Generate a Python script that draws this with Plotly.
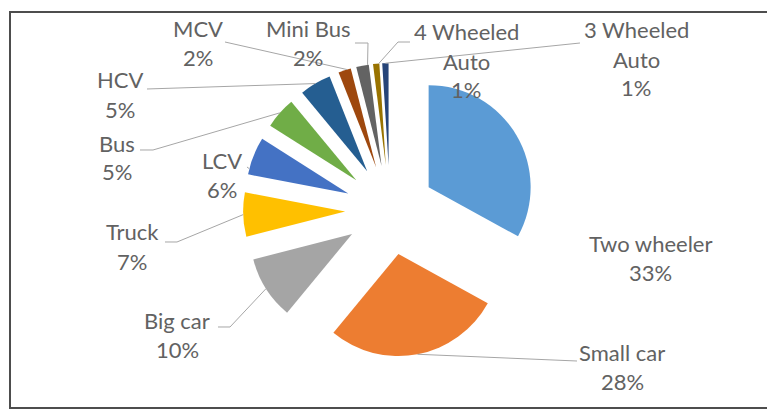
import math
import plotly.graph_objects as go

# Vehicle category shares (%), clockwise from 12 o'clock
categories = ["Two wheeler", "Small car", "Big car", "Truck", "LCV", "Bus",
              "HCV", "MCV", "Mini Bus", "4 Wheeled Auto", "3 Wheeled Auto"]
shares = [33, 28, 10, 7, 6, 5, 5, 2, 2, 1, 1]
colors = ["#5B9BD5", "#ED7D31", "#A5A5A5", "#FFC000", "#4472C4", "#70AD47",
          "#255E91", "#9E480E", "#636363", "#997300", "#264478"]
# category names as they wrap in the data labels
label_lines = [["Two wheeler"], ["Small car"], ["Big car"], ["Truck"], ["LCV"],
               ["Bus"], ["HCV"], ["MCV"], ["Mini Bus"], ["4 Wheeled", "Auto"],
               ["3 Wheeled", "Auto"]]

W, H = 767, 410
CX, CY = 390, 210        # pie centre, px
R = 102                  # slice radius, px
PULL = 0.44              # explosion as a fraction of the radius
LINE_H = 29              # label line spacing, px

# label placement: centre x, first-line y, leader elbow points (label side first),
# and where along the slice arc the leader meets it (0 = start, 1 = end)
label_layout = {
    "Two wheeler":    dict(x=650, y=243, leader=None, frac=0.5),
    "Small car":      dict(x=622, y=352, leader=[(577, 361)], frac=0.5),
    "Big car":        dict(x=177, y=320, leader=[(218, 327), (230, 327)], frac=0.5),
    "Truck":          dict(x=132, y=232, leader=[(165, 242), (177, 242)], frac=0.5),
    "LCV":            dict(x=222, y=160, leader=[(247, 167)], frac=0.15),
    "Bus":            dict(x=117, y=143, leader=[(140, 150), (153, 150)], frac=0.5),
    "HCV":            dict(x=120, y=80, leader=[(147, 89)], frac=0.5),
    "MCV":            dict(x=198, y=28, leader=[(225, 42)], frac=0.7),
    "Mini Bus":       dict(x=308, y=28, leader=[(355, 43), (368, 43)], frac=0.9),
    "4 Wheeled Auto": dict(x=466, y=32, leader=[(410, 42), (398, 42)], frac=0.9),
    "3 Wheeled Auto": dict(x=636, y=30, leader=[(580, 43)], frac=0.5),
}

def px(x):
    return x / W

def py(y):
    return 1 - y / H

# pie domain sized so the exploded pie has radius R around (CX, CY)
half = R * (1 + PULL)
dom_x = [px(CX - half), px(CX + half)]
dom_y = [py(CY + half), py(CY - half)]

fig = go.Figure(go.Pie(
    labels=categories,
    values=shares,
    sort=False,
    direction="clockwise",
    rotation=0,
    pull=[PULL] * len(shares),
    marker=dict(colors=colors, line=dict(width=0)),
    textinfo="none",
    hoverinfo="label+percent",
    domain=dict(x=dom_x, y=dom_y),
    showlegend=False,
))

total = sum(shares)
annotations = []
shapes = []
start = 0.0
for name, lines, v in zip(categories, label_lines, shares):
    span = 360.0 * v / total
    mid = math.radians(start + span / 2)
    lay = label_layout[name]
    # data label: name lines followed by the percentage
    texts = lines + [f"{round(100 * v / total)}%"]
    for k, t in enumerate(texts):
        annotations.append(dict(
            x=px(lay["x"]), y=py(lay["y"] + k * LINE_H), xref="paper", yref="paper",
            text=t, showarrow=False, xanchor="center", yanchor="middle",
            font=dict(family="Lato, Open Sans, sans-serif", size=22, color="#626262"),
        ))
    if lay["leader"]:
        ax0 = CX + PULL * R * math.sin(mid)
        ay0 = CY - PULL * R * math.cos(mid)
        a = math.radians(start + lay["frac"] * span)
        ex = ax0 + R * math.sin(a)
        ey = ay0 - R * math.cos(a)
        pts = lay["leader"] + [(ex, ey)]
        path = "M " + " L ".join(f"{px(x):.5f},{py(y):.5f}" for x, y in pts)
        shapes.append(dict(type="path", path=path, xref="paper", yref="paper",
                           line=dict(color="#A6A6A6", width=1)))
    start += span

# chart frame
shapes.append(dict(type="rect", xref="paper", yref="paper",
                   x0=px(10), x1=px(790), y0=py(408), y1=py(12),
                   line=dict(color="#4D4D4D", width=2), fillcolor="rgba(0,0,0,0)"))

fig.update_layout(
    width=W, height=H,
    margin=dict(l=0, r=0, t=0, b=0),
    paper_bgcolor="white",
    plot_bgcolor="white",
    annotations=annotations,
    shapes=shapes,
)

fig.write_html("out.html")
